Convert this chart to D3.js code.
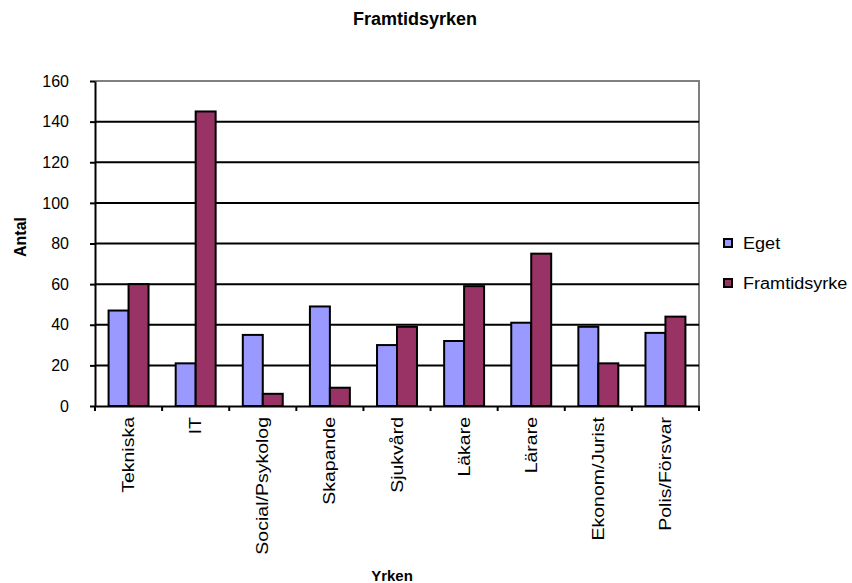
<!DOCTYPE html>
<html>
<head>
<meta charset="utf-8">
<title>Framtidsyrken</title>
<style>
body { margin: 0; background: #fff; }
text { font-family: Arial, "Liberation Sans", sans-serif; }
</style>
</head>
<body>
<div id="chart"></div>
<script src="https://cdn.jsdelivr.net/npm/d3@7"></script>
<script>

// data
var categories = ['Tekniska', 'IT', 'Social/Psykolog', 'Skapande', 'Sjukvård', 'Läkare', 'Lärare', 'Ekonom/Jurist', 'Polis/Försvar'];
var eget = [47, 21, 35, 49, 30, 32, 41, 39, 36];
var framtid = [60, 145, 6, 9, 39, 59, 75, 21, 44];
var seriesNames = ['Eget', 'Framtidsyrke'];
var yTicks = [0, 20, 40, 60, 80, 100, 120, 140, 160];

var colors = ['#9999FF', '#993366'];
var W = 852, H = 583;
// plot area
var pLeft = 95, pRight = 699, pTop = 81, pBottom = 406;

var svg = d3.select('#chart')
  .append('svg')
  .attr('width', W)
  .attr('height', H);

var x = d3.scaleBand()
  .domain(categories)
  .range([pLeft, pRight])
  .padding(0);

var xs = d3.scaleBand()
  .domain(seriesNames)
  .range([0, x.bandwidth()])
  .paddingInner(0)
  .paddingOuter(0.68);

var y = d3.scaleLinear()
  .domain([0, 160])
  .range([pBottom, pTop]);

// plot border (top and right, gray)
svg.append('path')
  .attr('d', 'M' + pLeft + ',' + pTop + 'H' + pRight + 'V' + pBottom)
  .attr('fill', 'none')
  .attr('stroke', '#808080')
  .attr('stroke-width', 2);

// gridlines
svg.append('g').selectAll('line')
  .data(yTicks.filter(d => d > 0 && d < 160))
  .join('line')
  .attr('x1', pLeft).attr('x2', pRight)
  .attr('y1', d => y(d)).attr('y2', d => y(d))
  .attr('stroke', '#000')
  .attr('stroke-width', 2);

// bars
var groups = svg.append('g').selectAll('g')
  .data(categories)
  .join('g')
  .attr('transform', d => 'translate(' + x(d) + ',0)');

groups.selectAll('rect')
  .data((d, i) => [{s: seriesNames[0], v: eget[i]}, {s: seriesNames[1], v: framtid[i]}])
  .join('rect')
  .attr('x', d => xs(d.s))
  .attr('width', xs.bandwidth())
  .attr('y', d => y(d.v))
  .attr('height', d => y(0) - y(d.v))
  .attr('fill', (d, i) => colors[i])
  .attr('stroke', '#000')
  .attr('stroke-width', 2);

// y axis
var yAxis = svg.append('g')
  .attr('transform', 'translate(' + pLeft + ',0)')
  .call(d3.axisLeft(y).tickValues(yTicks).tickSize(5).tickSizeOuter(0).tickPadding(21));
yAxis.select('.domain').attr('stroke', '#000').attr('stroke-width', 2);
yAxis.selectAll('.tick line').attr('stroke', '#000').attr('stroke-width', 2);
yAxis.selectAll('.tick text')
  .attr('fill', '#000')
  .style('font-size', '16px');

// x axis (labels stretched along their length like the original)
var xAxis = svg.append('g')
  .attr('transform', 'translate(0,' + pBottom + ')')
  .call(d3.axisBottom(x).tickSize(0));
xAxis.select('.domain').attr('stroke', '#000').attr('stroke-width', 2);
xAxis.selectAll('.tick text')
  .attr('fill', '#000')
  .style('font-size', '16px')
  .attr('transform', 'rotate(-90) scale(1.22,1)')
  .attr('x', -11 / 1.22)
  .attr('y', 0)
  .attr('dy', '0.35em')
  .style('text-anchor', 'end');

// category separator ticks
svg.append('g').selectAll('line')
  .data(d3.range(categories.length + 1))
  .join('line')
  .attr('x1', i => pLeft + i * x.step()).attr('x2', i => pLeft + i * x.step())
  .attr('y1', pBottom).attr('y2', pBottom + 5)
  .attr('stroke', '#000')
  .attr('stroke-width', 2);

// titles
svg.append('text')
  .attr('x', 415).attr('y', 25)
  .attr('text-anchor', 'middle')
  .style('font-size', '18px').style('font-weight', 'bold')
  .text('Framtidsyrken');

svg.append('text')
  .attr('x', 392).attr('y', 581)
  .attr('text-anchor', 'middle')
  .style('font-size', '15px').style('font-weight', 'bold')
  .text('Yrken');

svg.append('text')
  .attr('transform', 'translate(26,237) rotate(-90)')
  .attr('text-anchor', 'middle')
  .style('font-size', '16px').style('font-weight', 'bold')
  .text('Antal');

// legend
var legend = svg.append('g').selectAll('g')
  .data(seriesNames)
  .join('g')
  .attr('transform', (d, i) => 'translate(724,' + (239 + i * 40) + ')');
legend.append('rect')
  .attr('width', 8).attr('height', 8)
  .attr('fill', (d, i) => colors[i])
  .attr('stroke', '#000').attr('stroke-width', 2);
legend.append('text')
  .attr('transform', 'translate(19,4) scale(1.13,1)')
  .attr('dy', '0.35em')
  .style('font-size', '16px')
  .text(d => d);

</script>
</body>
</html>
